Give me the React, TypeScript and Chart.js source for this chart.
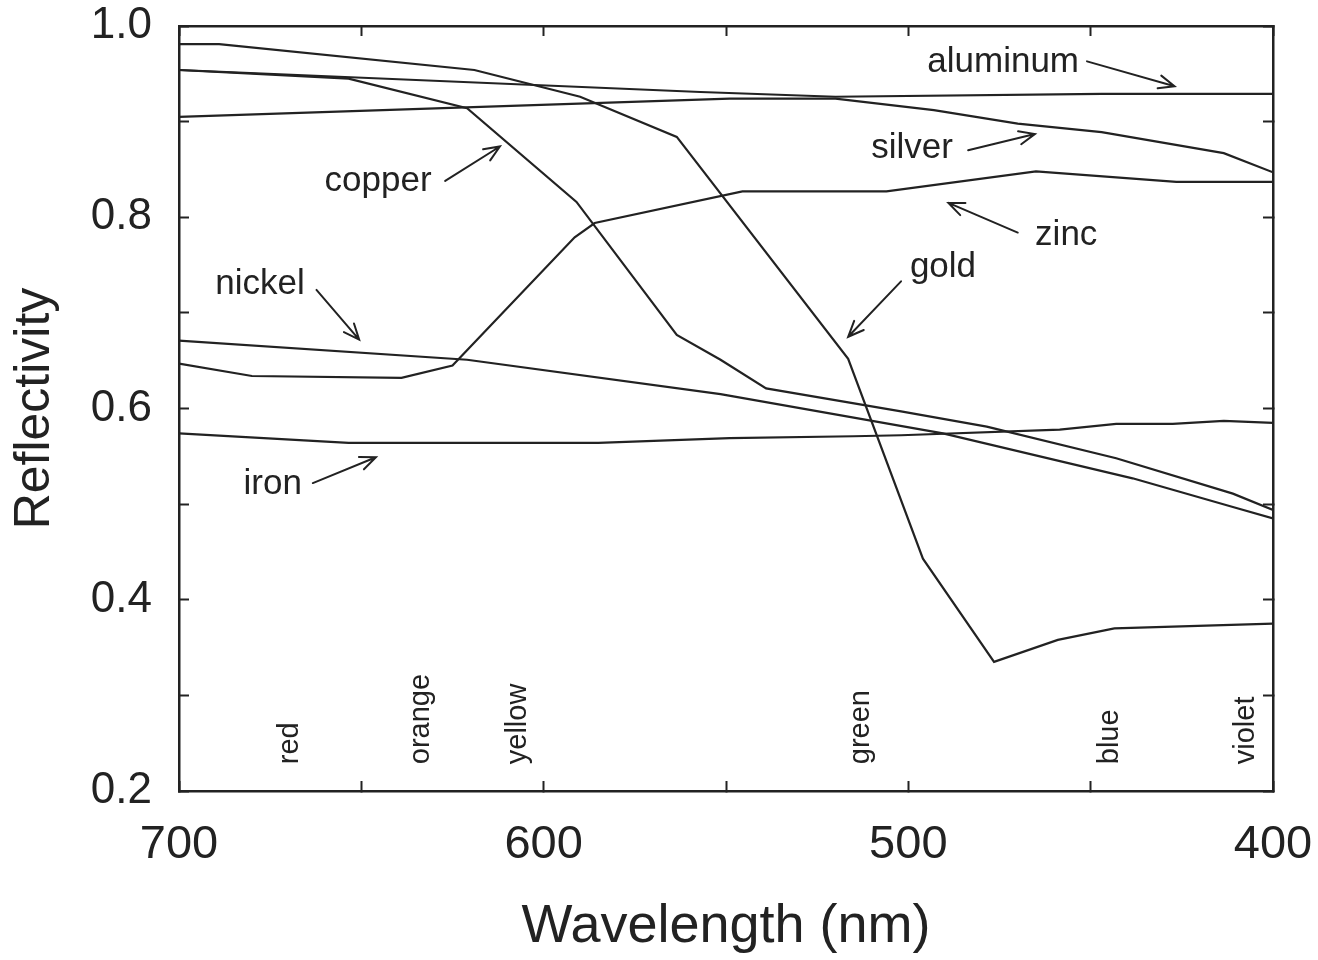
import React, { useEffect, useRef } from 'react';
import { Chart, registerables } from 'chart.js';

Chart.register(...registerables);

// ---------- data (wavelength in nm, reflectivity) ----------
const goldWavelength = [700, 689, 619, 590, 563.5, 516.5, 496, 476.5, 459, 443.5, 400];
const goldReflectivity = [0.981, 0.981, 0.954, 0.926, 0.884, 0.652, 0.443, 0.335, 0.358, 0.37, 0.375];

const copperWavelength = [700, 653.5, 621, 591, 563.5, 551.5, 539, 502, 478.5, 443, 411, 400];
const copperReflectivity = [0.954, 0.945, 0.914, 0.816, 0.677, 0.651, 0.621, 0.597, 0.581, 0.548, 0.511, 0.494];

const aluminumWavelength = [700, 557, 520, 447, 400];
const aluminumReflectivity = [0.954, 0.931, 0.926, 0.929, 0.929];

const silverWavelength = [700, 549, 520, 493, 470, 447, 413.5, 400];
const silverReflectivity = [0.905, 0.924, 0.924, 0.912, 0.898, 0.889, 0.867, 0.847];

const zincWavelength = [700, 680, 639, 625, 591.5, 586, 545.5, 506, 465, 426.5, 400];
const zincReflectivity = [0.647, 0.634, 0.632, 0.645, 0.779, 0.794, 0.827, 0.827, 0.848, 0.837, 0.837];

const nickelWavelength = [700, 621, 551.5, 490.5, 438.5, 411, 400];
const nickelReflectivity = [0.671, 0.651, 0.615, 0.574, 0.527, 0.497, 0.485];

const ironWavelength = [700, 653.5, 585, 549, 515, 502, 458.5, 443, 427.5, 413.5, 400];
const ironReflectivity = [0.574, 0.564, 0.564, 0.569, 0.571, 0.572, 0.578, 0.584, 0.584, 0.587, 0.585];

const metalNames = ['gold', 'copper', 'aluminum', 'silver', 'zinc', 'nickel', 'iron'];
const metalWavelengths = [goldWavelength, copperWavelength, aluminumWavelength, silverWavelength, zincWavelength, nickelWavelength, ironWavelength];
const metalReflectivities = [goldReflectivity, copperReflectivity, aluminumReflectivity, silverReflectivity, zincReflectivity, nickelReflectivity, ironReflectivity];

// curve labels (text anchor in data coords)
const labelTexts = ['aluminum', 'silver', 'copper', 'zinc', 'gold', 'nickel', 'iron'];
const labelNm = [474, 499, 645.4, 456.7, 490.5, 677.8, 674.3];
const labelR = [0.952, 0.862, 0.827, 0.771, 0.738, 0.72, 0.511];

// arrows (from -> to, data coords)
const arrowFromNm = [451, 483.6, 627, 470, 502, 662.3, 663.3];
const arrowFromR = [0.963, 0.87, 0.838, 0.784, 0.733, 0.724, 0.522];
const arrowToNm = [427, 465.3, 612, 489, 516.5, 650.6, 646];
const arrowToR = [0.937, 0.887, 0.874, 0.815, 0.675, 0.672, 0.549];

// spectrum color labels
const spectrumLabels = ['red', 'orange', 'yellow', 'green', 'blue', 'violet'];
const spectrumNm = [669.6, 633.6, 607, 513, 444.7, 407.4];
const spectrumBaseR = 0.228;

const xTickMajor = [700, 600, 500, 400];

const FONT = '"Liberation Sans", Arial, Helvetica, sans-serif';
const INK = '#222222';

const annotationPlugin = {
  id: 'curveAnnotations',
  afterDatasetsDraw(chart: any) {
    const { ctx, scales } = chart;
    const xs = scales.x;
    const ys = scales.y;
    ctx.save();
    ctx.fillStyle = INK;
    ctx.strokeStyle = INK;
    ctx.font = `35px ${FONT}`;
    ctx.textAlign = 'center';
    ctx.textBaseline = 'alphabetic';
    labelTexts.forEach((t, i) => {
      ctx.fillText(t, xs.getPixelForValue(labelNm[i]), ys.getPixelForValue(labelR[i]));
    });
    ctx.lineWidth = 2;
    ctx.lineCap = 'round';
    arrowFromNm.forEach((_, i) => {
      const x1 = xs.getPixelForValue(arrowFromNm[i]);
      const y1 = ys.getPixelForValue(arrowFromR[i]);
      const x2 = xs.getPixelForValue(arrowToNm[i]);
      const y2 = ys.getPixelForValue(arrowToR[i]);
      const ang = Math.atan2(y2 - y1, x2 - x1);
      const len = 17;
      const spread = 0.4;
      ctx.beginPath();
      ctx.moveTo(x1, y1);
      ctx.lineTo(x2, y2);
      ctx.moveTo(x2 - len * Math.cos(ang - spread), y2 - len * Math.sin(ang - spread));
      ctx.lineTo(x2, y2);
      ctx.lineTo(x2 - len * Math.cos(ang + spread), y2 - len * Math.sin(ang + spread));
      ctx.stroke();
    });
    ctx.font = `29px ${FONT}`;
    ctx.textAlign = 'left';
    ctx.textBaseline = 'middle';
    spectrumLabels.forEach((t, i) => {
      ctx.save();
      ctx.translate(xs.getPixelForValue(spectrumNm[i]), ys.getPixelForValue(spectrumBaseR));
      ctx.rotate(-Math.PI / 2);
      ctx.fillText(t, 0, 0);
      ctx.restore();
    });
    ctx.restore();
  },
};

const gridOpts = {
  drawOnChartArea: false,
  drawTicks: true,
  tickLength: -10,
  tickWidth: 2,
  tickColor: INK,
};
const borderOpts = { display: true, color: INK, width: 2.5 };

const zeroPadding = (s: any) => {
  s.paddingLeft = 0;
  s.paddingRight = 0;
  s.paddingTop = 0;
  s.paddingBottom = 0;
};

export default function App() {
  const ref = useRef<HTMLCanvasElement | null>(null);

  useEffect(() => {
    if (!ref.current) return;
    const datasets = metalNames.map((name, k) => ({
      label: name,
      data: metalWavelengths[k].map((w, i) => ({ x: w, y: metalReflectivities[k][i] })),
      borderColor: INK,
      borderWidth: 2.2,
      pointRadius: 0,
      tension: 0,
      fill: false,
      xAxisID: 'x',
      yAxisID: 'y',
    }));
    const chart = new Chart(ref.current, {
      type: 'line',
      data: { datasets },
      plugins: [annotationPlugin],
      options: {
        responsive: false,
        animation: false,
        events: [],
        layout: { padding: { left: 0, right: 45, top: 26, bottom: 0 } },
        plugins: { legend: { display: false }, tooltip: { enabled: false } },
        scales: {
          x: {
            type: 'linear',
            position: 'bottom',
            reverse: true,
            min: 400,
            max: 700,
            ticks: {
              stepSize: 50,
              autoSkip: false,
              maxRotation: 0,
              padding: 36,
              color: INK,
              font: { family: FONT, size: 47 },
              callback: (v: any) => (xTickMajor.includes(Number(v)) ? String(v) : ''),
            },
            grid: gridOpts,
            border: borderOpts,
            title: {
              display: true,
              text: 'Wavelength (nm)',
              color: INK,
              font: { family: FONT, size: 54 },
              padding: { top: 0, bottom: 0 },
            },
            afterFit: (s: any) => {
              s.height = 169;
              zeroPadding(s);
            },
          },
          x2: {
            type: 'linear',
            position: 'top',
            reverse: true,
            min: 400,
            max: 700,
            ticks: { stepSize: 50, autoSkip: false, callback: () => '' },
            grid: gridOpts,
            border: borderOpts,
            afterFit: (s: any) => {
              s.height = 0;
              zeroPadding(s);
            },
          },
          y: {
            type: 'linear',
            position: 'left',
            min: 0.2,
            max: 1.0,
            ticks: {
              stepSize: 0.1,
              autoSkip: false,
              padding: 37,
              color: INK,
              font: { family: FONT, size: 44, lineHeight: 1 },
              callback: (v: any) => {
                const k = Math.round(Number(v) * 10);
                return k % 2 === 0 ? (k / 10).toFixed(1) : '';
              },
            },
            grid: gridOpts,
            border: borderOpts,
            title: {
              display: true,
              text: 'Reflectivity',
              color: INK,
              font: { family: FONT, size: 50 },
              padding: { top: 5, bottom: 0 },
            },
            afterFit: (s: any) => {
              s.width = 179;
              zeroPadding(s);
            },
          },
          y2: {
            type: 'linear',
            position: 'right',
            min: 0.2,
            max: 1.0,
            ticks: { stepSize: 0.1, autoSkip: false, callback: () => '' },
            grid: gridOpts,
            border: borderOpts,
            afterFit: (s: any) => {
              s.width = 0;
              zeroPadding(s);
            },
          },
        },
      } as any,
    });
    return () => chart.destroy();
  }, []);

  return (
    <div style={{ position: 'absolute', left: 0, top: 0, width: 1318, height: 960, background: '#fff' }}>
      <canvas ref={ref} width={1318} height={960} style={{ display: 'block' }} />
    </div>
  );
}
